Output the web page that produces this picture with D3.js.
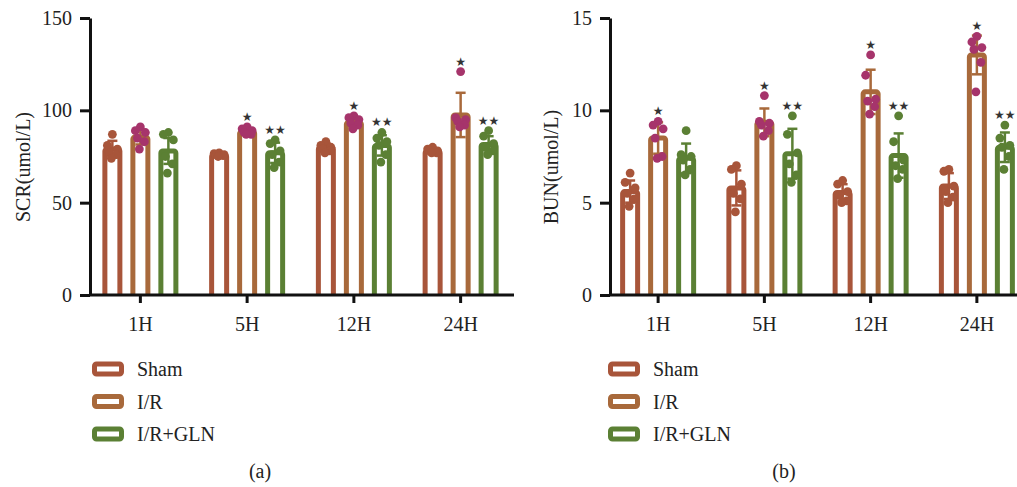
<html>
<head>
<style>
  body { margin: 0; background: #fff; }
  text { font-family: "Liberation Serif", "Times New Roman", serif; fill: #222; }
</style>
</head>
<body>
<svg id="chart" width="1017" height="487">
  <defs><clipPath id="plotClip"><rect x="0" y="0" width="1017" height="296"></rect></clipPath></defs>
</svg>
<script src="https://d3js.org/d3.v7.min.js"></script>
<script>
// categories
const timePoints = ["1H", "5H", "12H", "24H"]
const groups = ["Sham", "I/R", "I/R+GLN"]
const colors = ["#a8553a", "#a8693b", "#5b8034"]
const dotColors = ["#a8553a", "#a6346b", "#5b8034"]

// panel (a) SCR
const scrTicks = [0, 50, 100, 150]
const scrSham = [79, 76, 80, 78]
const scrIR = [85.5, 88.5, 93.5, 97.5]
const scrGLN = [78, 77, 81, 81.5]
const scrShamSD = [4.5, 0.7, 2, 1.2]
const scrIRSD = [4, 1.6, 2.5, 12]
const scrGLNSD = [7, 5.5, 5.5, 4.5]
const scrShamDots = [[87, 81, 79, 77, 76, 74], [77, 76.5, 76, 76, 75.5, 75], [83, 81, 80, 79, 78, 77], [80, 79, 78, 78, 77, 77]]
const scrIRDots = [[91, 89, 88, 85, 83, 79], [91, 90, 89, 88, 87, 87], [97, 96, 95, 93, 92, 90], [121, 96, 95, 94, 92, 91]]
const scrGLNDots = [[88, 87, 84, 75, 71, 66], [84, 82, 78, 76, 72, 69], [88, 85, 83, 81, 76, 72], [89, 86, 82, 80, 78, 76]]
const scrIRStars = ["", "*", "*", "*"]
const scrGLNStars = ["", "**", "**", "**"]

// panel (b) BUN
const bunTicks = [0, 5, 10, 15]
const bunSham = [5.6, 5.8, 5.55, 5.9]
const bunIR = [8.5, 9.35, 11.0, 13.0]
const bunGLN = [7.4, 7.65, 7.55, 8.0]
const bunShamSD = [0.6, 0.95, 0.45, 0.7]
const bunIRSD = [0.85, 0.75, 1.2, 1.05]
const bunGLNSD = [0.8, 1.35, 1.2, 0.8]
const bunShamDots = [[6.6, 6.1, 5.8, 5.5, 5.2, 4.8], [7.0, 6.8, 6.0, 5.5, 5.2, 4.5], [6.2, 6.0, 5.6, 5.4, 5.1, 5.0], [6.8, 6.7, 5.9, 5.6, 5.3, 5.0]]
const bunIRDots = [[9.4, 9.2, 9.0, 8.5, 7.5, 7.4], [10.8, 9.4, 9.3, 9.2, 8.9, 8.6], [13.0, 11.9, 10.6, 10.5, 10.2, 9.8], [14.0, 13.7, 13.4, 13.3, 12.6, 11.0]]
const bunGLNDots = [[8.9, 7.6, 7.5, 7.3, 6.8, 6.5], [9.7, 8.7, 7.7, 7.1, 6.5, 6.1], [9.7, 8.3, 7.3, 7.0, 6.8, 6.3], [9.2, 8.5, 8.1, 8.0, 7.5, 6.8]]
const bunIRStars = ["*", "*", "*", "*"]
const bunGLNStars = ["", "**", "**", "**"]

const jitter = [0, -5, 5, -3, 4, -1]

let svg = d3.select("#chart")

function drawPanel(p) {
    let g = svg.append("g")
    let y = d3.scaleLinear().domain([0, p.max]).range([295, 18])
    let x = d3.scaleBand().domain(timePoints).range(p.xRange)
    let sub = d3.scalePoint().domain(groups).range([-28, 28])
    let barW = 15

    groups.forEach((grp, gi) => {
        let rows = timePoints.map((t, ti) => ({
            t: t, mean: p.means[gi][ti], sd: p.sds[gi][ti], dots: p.dots[gi][ti],
            stars: p.stars[gi][ti],
            cx: x(t) + x.bandwidth() / 2 + sub(grp)
        }))
        let col = colors[gi]

        // bars run past the axis and get clipped, so no bottom edge shows
        g.append("g").attr("clip-path", "url(#plotClip)")
            .selectAll("rect").data(rows).enter().append("rect")
            .attr("x", d => d.cx - barW / 2)
            .attr("y", d => y(d.mean))
            .attr("width", barW)
            .attr("height", d => y(0) - y(d.mean) + 6)
            .attr("rx", 2)
            .style("fill", "white")
            .style("stroke", col)
            .style("stroke-width", 5)

        let err = g.selectAll(null).data(rows).enter().append("g")
            .style("stroke", col).style("stroke-width", 2.5)
        err.append("line")
            .attr("x1", d => d.cx).attr("x2", d => d.cx)
            .attr("y1", d => y(d.mean - d.sd)).attr("y2", d => y(d.mean + d.sd))
        err.append("line")
            .attr("x1", d => d.cx - 5).attr("x2", d => d.cx + 5)
            .attr("y1", d => y(d.mean + d.sd)).attr("y2", d => y(d.mean + d.sd))
        err.append("line")
            .attr("x1", d => d.cx - 5).attr("x2", d => d.cx + 5)
            .attr("y1", d => y(d.mean - d.sd)).attr("y2", d => y(d.mean - d.sd))

        rows.forEach(r => {
            g.selectAll(null).data(r.dots).enter().append("circle")
                .attr("cx", (d, i) => r.cx + jitter[i])
                .attr("cy", d => y(d))
                .attr("r", 4.4)
                .style("fill", dotColors[gi])
        })

        g.selectAll(null).data(rows.filter(d => d.stars)).enter().append("text")
            .attr("x", d => d.cx)
            .attr("y", d => y(Math.max(d3.max(d.dots), d.mean + d.sd)) - 10)
            .attr("text-anchor", "middle")
            .attr("dominant-baseline", "central")
            .style("font-family", "DejaVu Sans")
            .style("font-size", "12px")
            .style("fill", "#333")
            .text(d => d.stars.replace(/\*/g, "\u2605"))
    })

    let yAxis = d3.axisLeft(y).tickValues(p.ticks).tickSize(10).tickPadding(8).tickSizeOuter(0)
    let ya = g.append("g").attr("transform", `translate(${p.yAxisX},0)`).call(yAxis)
    let xAxis = d3.axisBottom(x).tickSize(8).tickPadding(14).tickSizeOuter(0)
    let xa = g.append("g").attr("transform", "translate(0,295)").call(xAxis)
    xa.select(".domain").attr("d", `M${p.yAxisX - 1},0H${p.xRange[1]}`)
    ;[ya, xa].forEach(a => {
        a.selectAll("path, line").style("stroke", "#111").style("stroke-width", 3)
        a.selectAll("text").style("font-family", "Liberation Serif").style("font-size", "20px").style("fill", "#222")
    })

    g.append("text")
        .attr("transform", `translate(${p.titleX},167) rotate(-90)`)
        .attr("text-anchor", "middle")
        .attr("dominant-baseline", "central")
        .style("font-size", "20px")
        .text(p.title)

    groups.forEach((grp, gi) => {
        let cy = 369 + gi * 32.5
        g.append("rect")
            .attr("x", p.legX + 2.5).attr("y", cy - 5)
            .attr("width", 27).attr("height", 10).attr("rx", 2)
            .style("fill", "white").style("stroke", colors[gi]).style("stroke-width", 5)
        g.append("text")
            .attr("x", p.legX + 45).attr("y", cy)
            .attr("dominant-baseline", "central")
            .style("font-size", "20px")
            .text(grp)
    })

    g.append("text")
        .attr("x", p.capX).attr("y", 471)
        .attr("text-anchor", "middle")
        .attr("dominant-baseline", "central")
        .style("font-size", "20px")
        .text(p.caption)
}

drawPanel({
    max: 150, ticks: scrTicks, xRange: [87, 514], yAxisX: 90,
    means: [scrSham, scrIR, scrGLN], sds: [scrShamSD, scrIRSD, scrGLNSD],
    dots: [scrShamDots, scrIRDots, scrGLNDots], stars: [["", "", "", ""], scrIRStars, scrGLNStars],
    title: "SCR(umol/L)", titleX: 23, legX: 92, capX: 260, caption: "(a)"
})
drawPanel({
    max: 15, ticks: bunTicks, xRange: [605, 1030], yAxisX: 610,
    means: [bunSham, bunIR, bunGLN], sds: [bunShamSD, bunIRSD, bunGLNSD],
    dots: [bunShamDots, bunIRDots, bunGLNDots], stars: [["", "", "", ""], bunIRStars, bunGLNStars],
    title: "BUN(umol/L)", titleX: 551, legX: 608, capX: 784, caption: "(b)"
})
</script>
</body>
</html>
